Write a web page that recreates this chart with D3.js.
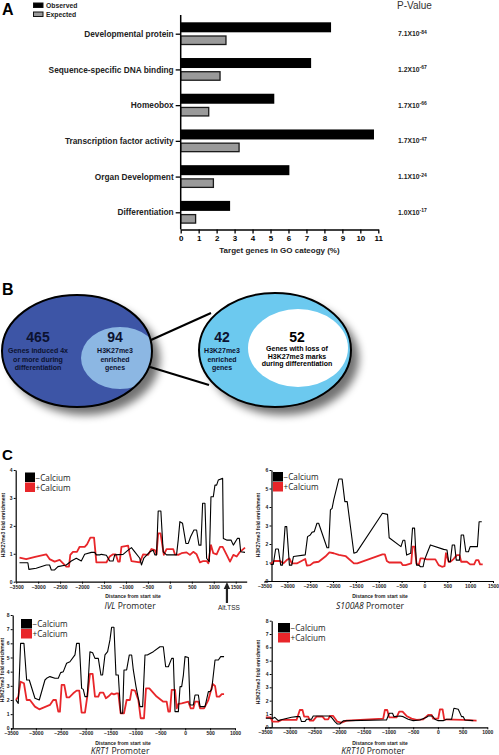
<!DOCTYPE html>
<html><head><meta charset="utf-8">
<script src="https://cdnjs.cloudflare.com/ajax/libs/d3/7.8.5/d3.min.js"></script>
<style>body{margin:0;background:#fff}svg{display:block;font-family:"Liberation Sans",Arial,sans-serif}</style>
</head><body><svg id="c" width="499" height="755"></svg>
<script>
// ---------- Panel A data ----------
const goCategories = ["Developmental protein","Sequence-specific DNA binding","Homeobox","Transcription factor activity","Organ Development","Differentiation"];
const observedPct = [8.37, 7.26, 5.21, 10.76, 6.05, 2.75];
const expectedPct = [2.52, 2.19, 1.56, 3.25, 1.82, 0.83];
const pValueMantissa = ["7.1","1.2","1.7","1.7","1.1","1.0"];
const pValueExponent = ["-84","-67","-66","-47","-24","-17"];
const pctTicks = [0,1,2,3,4,5,6,7,8,9,10,11];

// ---------- Panel B data ----------
const vennCounts = [465, 94, 42, 52];
const vennLabels = [
  ["Genes induced 4x","or more during","differentiation"],
  ["H3K27me3","enriched","genes"],
  ["H3K27me3","enriched","genes"],
  ["Genes with loss of","H3K27me3 marks","during differentiation"]
];

// ---------- Panel C data: [distance from start site, fold enrichment] ----------
const ivlMinusCa = [[-3425,0.68],[-3234,0.68],[-3211,0.44],[-3044,0.48],[-2816,0.6],[-2740,0.6],[-2700,0.42],[-2625,0.42],[-2550,0.54],[-2359,0.6],[-2245,0.74],[-2131,0.84],[-2017,0.74],[-1940,0.98],[-1788,1.05],[-1712,1.05],[-1674,0.96],[-1598,0.96],[-1560,0.98],[-1446,0.95],[-1370,0.74],[-1294,0.74],[-1256,0.96],[-1065,0.98],[-951,1.13],[-875,1.22],[-799,1.07],[-685,0.84],[-647,0.6],[-594,0.84],[-457,1.07],[-381,1.13],[-342,0.96],[-304,0.96],[-266,2.53],[-205,2.53],[-152,1.07],[-76,0.96],[152,0.96],[190,1.49],[228,2.15],[289,2.09],[365,1.37],[419,1.37],[472,1.61],[548,1.85],[609,1.85],[662,1.31],[708,1.31],[746,2.81],[799,2.81],[837,0.84],[898,0.72],[936,3.04],[989,3.04],[1027,3.46],[1065,3.46],[1103,3.64],[1202,3.7],[1218,1.55],[1294,1.49],[1393,1.49],[1446,1.31],[1537,1.55],[1583,1.55],[1613,1.07],[1712,1.05]];
const ivlPlusCa = [[-3425,0.86],[-3272,0.81],[-3044,0.9],[-2816,0.98],[-2740,0.81],[-2625,0.72],[-2511,0.78],[-2359,0.54],[-2298,0.54],[-2268,0.96],[-2207,1.07],[-2116,1.07],[-2055,1.25],[-1940,1.25],[-1887,1.34],[-1811,1.58],[-1727,1.58],[-1674,0.69],[-1446,0.69],[-1370,0.9],[-1294,0.98],[-1233,0.98],[-1180,0.72],[-1142,0.72],[-1103,1.25],[-951,1.29],[-913,0.98],[-875,0.74],[-685,0.69],[-609,0.98],[-495,0.96],[-419,1.17],[-342,1.13],[-304,0.98],[-266,1.73],[-213,1.73],[-137,0.96],[-76,1.17],[76,1.17],[114,0.98],[190,0.96],[266,1.02],[380,1.05],[457,0.96],[533,1.07],[609,0.98],[685,0.69],[761,0.74],[837,0.74],[875,0.66],[936,1.31],[989,1.02],[1065,0.98],[1142,1.25],[1202,1.25],[1294,0.96],[1370,0.72],[1446,0.96],[1522,0.9],[1598,1.07],[1712,1.22]];

const s100MinusCa = [[-3366,0.9],[-3308,0.9],[-3256,1.73],[-3197,1.73],[-3146,0.86],[-3109,0.86],[-3050,2.94],[-3014,2.94],[-2955,0.86],[-2903,0.86],[-2867,1.32],[-2609,1.41],[-2558,2.4],[-2499,2.49],[-2462,2.63],[-2411,2.67],[-2352,3.12],[-2315,3.12],[-2132,1.8],[-2095,1.8],[-2058,3.84],[-2021,3.93],[-1985,4.38],[-1874,5.51],[-1801,5.51],[-1742,4.29],[-1690,4.29],[-1544,1.5],[-1485,1.55],[-919,3.66],[-808,3.6],[-772,2.34],[-514,1.86],[-470,2.2],[-430,2.2],[-390,1.4],[-300,1.5],[-261,2.86],[-217,2.86],[-174,0.86],[-123,0.86],[-87,0.77],[-29,0.77],[0,1.13],[58,1.5],[130,1.95],[420,1.71],[493,1.68],[529,1.04],[565,1.04],[609,1.95],[659,1.95],[696,1.13],[768,1.13],[804,2.49],[855,2.49],[906,1.58],[963,1.58],[1000,1.86],[1159,1.86],[1196,3.2],[1254,3.2]];
const s100PlusCa = [[-3366,0.9],[-3293,1.08],[-3160,1.08],[-3087,0.95],[-3014,1.13],[-2955,1.22],[-2903,0.95],[-2793,0.95],[-2609,1.19],[-2573,0.83],[-2499,0.86],[-2426,1.0],[-2315,1.04],[-2168,1.32],[-2080,1.55],[-1985,1.5],[-1874,1.41],[-1727,1.35],[-1544,0.95],[-1470,0.95],[-919,1.44],[-867,1.44],[-823,1.08],[-772,1.0],[-514,1.0],[-478,0.86],[-413,0.86],[-290,0.95],[-261,1.86],[-217,1.86],[-174,0.95],[-123,0.86],[-87,1.22],[-43,1.22],[58,1.17],[239,1.17],[311,0.86],[384,0.77],[440,0.8],[470,1.5],[529,1.04],[565,1.04],[630,1.17],[710,1.4],[768,1.4],[804,1.04],[928,1.04],[1000,0.9],[1087,0.9],[1130,1.13],[1180,1.13],[1217,0.9],[1275,0.9]];

const krt1MinusCa = [[-3401,2.0],[-3354,1.76],[-3307,6.0],[-3240,6.0],[-3186,3.41],[-3133,3.41],[-3019,2.12],[-2932,2.0],[-2818,3.41],[-2785,3.53],[-2718,3.65],[-2617,3.53],[-2550,3.53],[-2503,3.93],[-2449,4.0],[-2383,4.59],[-2316,4.7],[-2215,5.18],[-2182,6.0],[-2128,6.0],[-2081,2.82],[-2048,2.75],[-2014,2.24],[-1968,2.24],[-1914,5.41],[-1860,5.34],[-1813,4.94],[-1746,4.94],[-1693,3.76],[-1660,3.76],[-1612,5.18],[-1559,5.41],[-1512,6.24],[-1479,7.13],[-1432,7.13],[-1391,3.76],[-1344,3.76],[-1297,1.06],[-1257,1.06],[-1230,4.12],[-1177,4.12],[-1123,5.18],[-1076,5.18],[-1043,4.12],[-989,2.94],[-909,1.53],[-855,1.53],[-808,5.18],[-761,5.18],[-641,5.41],[-507,5.76],[-440,5.76],[-393,4.35],[-339,4.35],[-272,4.94],[-239,4.94],[-205,1.18],[-138,1.18],[-104,2.94],[-71,2.94],[-37,3.76],[-4,5.06],[63,5.0],[97,1.65],[164,1.65],[197,2.35],[264,2.35],[298,1.53],[398,1.53],[465,2.59],[499,2.59],[532,2.75],[599,4.82],[666,4.82],[713,5.06],[780,5.06]];
const krt1PlusCa = [[-3401,2.0],[-3354,2.24],[-3307,3.29],[-3240,3.18],[-3186,2.0],[-3120,2.0],[-3019,1.53],[-2932,1.34],[-2718,1.65],[-2651,2.0],[-2597,2.0],[-2550,1.18],[-2517,1.18],[-2483,3.06],[-2429,3.06],[-2383,2.19],[-2330,2.19],[-2249,2.47],[-2182,2.66],[-2128,2.66],[-2081,1.11],[-2014,1.11],[-1968,2.24],[-1914,3.84],[-1860,3.84],[-1813,2.24],[-1746,2.24],[-1713,2.52],[-1646,2.52],[-1592,2.12],[-1546,2.24],[-1479,2.47],[-1432,2.4],[-1378,2.47],[-1344,2.47],[-1297,1.06],[-1230,1.06],[-1177,2.0],[-1110,2.0],[-1076,2.71],[-1009,2.66],[-942,2.0],[-895,0.71],[-828,0.71],[-788,2.82],[-721,2.82],[-574,2.24],[-440,1.88],[-373,1.88],[-339,1.18],[-306,1.18],[-272,2.71],[-205,2.71],[-171,1.41],[-138,1.72],[-71,1.76],[63,1.88],[111,1.41],[164,1.41],[197,1.88],[264,1.88],[298,1.41],[378,1.41],[465,2.0],[552,3.13],[599,2.99],[633,2.24],[687,2.24],[734,2.42],[780,2.42]];

const krt10MinusCa = [[-3483,0.68],[-3334,0.68],[-3301,0.75],[-3233,0.5],[-3132,0.6],[-2963,0.75],[-2862,0.8],[-2795,0.8],[-2761,0.43],[-2693,0.43],[-2660,0.6],[-2559,0.6],[-2524,0.85],[-2200,0.85],[-2153,0.75],[-2086,0.43],[-2039,0.25],[-1985,0.25],[-1917,0.48],[-1782,0.5],[-1107,0.55],[-1040,0.55],[-986,1.05],[-918,1.05],[-891,0.8],[-770,0.85],[-702,0.8],[-601,0.6],[-500,0.5],[-365,0.55],[-230,0.75],[-196,0.85],[-108,0.85],[-61,0.6],[7,0.5],[108,0.5],[176,0.6],[277,0.6],[324,1.43],[412,1.35],[479,0.8],[513,0.8],[547,0.55],[716,0.5]];
const krt10PlusCa = [[-3483,0.75],[-3389,0.75],[-3348,0.43],[-3233,0.43],[-3166,0.55],[-2862,0.55],[-2795,1.3],[-2741,1.3],[-2707,0.8],[-2626,0.8],[-2592,0.5],[-2524,0.5],[-2457,0.8],[-2336,0.8],[-2288,0.6],[-2221,0.6],[-2187,0.85],[-2120,0.85],[-2039,0.43],[-1951,0.35],[-1850,0.5],[-1107,0.65],[-1073,1.3],[-1026,1.3],[-986,0.75],[-837,0.75],[-783,1.18],[-716,1.18],[-635,0.85],[-533,0.65],[-432,0.55],[-297,0.6],[-196,0.93],[-128,0.93],[-95,0.65],[7,0.65],[41,1.35],[95,1.35],[128,0.6],[513,0.55],[783,0.5]];

const ticksIVLx = [-3500,-3000,-2500,-2000,-1500,-1000,-500,0,500,1000,1500];
const ticksS100x = [-3500,-3000,-2500,-2000,-1500,-1000,-500,0,500,1000,1500];
const ticksKRTx = [-3500,-3000,-2500,-2000,-1500,-1000,-500,0,500,1000];
const ticksIVLy = [0,1,2,3,4];
const ticksS100y = [0,1,2,3,4,5,6];
const ticksKRTy = [0,1,2,3,4,5,6,7,8];
const legendNames = ["\u2212Calcium", "+Calcium"];

const svg = d3.select("#c");
const defs = svg.append("defs");
const intFmt = d3.format("d");

// ================= Panel A =================
svg.append("text").attr("x",2).attr("y",15).attr("font-size",16).attr("font-weight","bold").text("A");
const xA = d3.scaleLinear().domain([0,11]).range([180.7,378.3]);
const yA = d3.scalePoint().domain(goCategories).range([33.7,212.3]);
const gA = svg.append("g");
gA.selectAll("rect.obs").data(goCategories).join("rect")
  .attr("x", xA(0)).attr("y", d=>yA(d)-11.4).attr("height",10)
  .attr("width",(d,i)=>xA(observedPct[i])-xA(0)).attr("fill","#000");
gA.selectAll("rect.exp").data(goCategories).join("rect")
  .attr("x", xA(0)).attr("y", d=>yA(d)+2.3).attr("height",8.5)
  .attr("width",(d,i)=>xA(expectedPct[i])-xA(0)).attr("fill","#9a9a9a").attr("stroke","#1a1a1a").attr("stroke-width",1.3);
const axA = gA.append("g").attr("transform",`translate(0,229.5)`)
  .call(d3.axisBottom(xA).tickValues(pctTicks).tickFormat(intFmt).tickSize(4).tickSizeOuter(0).tickPadding(1.5));
axA.select(".domain").attr("stroke-width",1.5);
axA.selectAll(".tick line").attr("stroke-width",1.3);
axA.selectAll("text").attr("font-size",8).attr("font-weight","bold").attr("font-family","Liberation Sans, Arial");
const ayA = gA.append("g").attr("transform",`translate(${xA(0)},0)`)
  .call(d3.axisLeft(yA).tickSize(5).tickSizeOuter(0).tickPadding(2));
ayA.select(".domain").attr("d","M0,15V229.5").attr("stroke-width",1.5);
ayA.selectAll(".tick line").attr("stroke-width",1.3);
ayA.selectAll("text").attr("font-size",8.3).attr("font-weight","bold").attr("fill","#222").attr("font-family","Liberation Sans, Arial");
gA.append("text").attr("x",(xA(0)+xA(11))/2).attr("y",253).attr("text-anchor","middle")
  .attr("font-size",8).attr("font-weight","bold").attr("fill","#222").text("Target genes in GO cateogy (%)");
[["Observed","#000"],["Expected","#9a9a9a"]].forEach((l,i)=>{
  gA.append("rect").attr("x",33.5).attr("y",3+i*9).attr("width",9.5).attr("height",4.5)
    .attr("fill",l[1]).attr("stroke","#111").attr("stroke-width",1);
  gA.append("text").attr("x",46).attr("y",8+i*9).attr("font-size",6.8).attr("font-weight","bold").attr("fill","#222").text(l[0]);
});
gA.append("text").attr("x",397).attr("y",9).attr("font-size",10).attr("fill","#333").text("P-Value");
goCategories.forEach((c,i)=>{
  const t = gA.append("text").attr("x",398).attr("y",yA(c)+2.5).attr("font-size",6.8).attr("font-weight","bold").attr("fill","#222");
  t.append("tspan").text(pValueMantissa[i]+"X10");
  t.append("tspan").attr("dy",-2.5).attr("font-size",5).text(pValueExponent[i]);
});

// ================= Panel B =================
svg.append("text").attr("x",2).attr("y",295).attr("font-size",16).attr("font-weight","bold").text("B");
const shadow = defs.append("filter").attr("id","sh").attr("x","-30%").attr("y","-30%").attr("width","160%").attr("height","160%");
shadow.append("feGaussianBlur").attr("stdDeviation",4);
const gB = svg.append("g");
gB.append("ellipse").attr("cx",85).attr("cy",359).attr("rx",75).attr("ry",56).attr("fill","#000").attr("opacity",0.55).attr("filter","url(#sh)");
gB.append("ellipse").attr("cx",283).attr("cy",358).attr("rx",76).attr("ry",57).attr("fill","#000").attr("opacity",0.55).attr("filter","url(#sh)");
defs.append("clipPath").attr("id","lc").append("ellipse").attr("cx",77).attr("cy",351).attr("rx",75).attr("ry",56);
gB.append("ellipse").attr("cx",77).attr("cy",351).attr("rx",75).attr("ry",56).attr("fill","#3d55a6");
gB.append("ellipse").attr("cx",120).attr("cy",358).attr("rx",39).attr("ry",31).attr("fill","#8cb7e3").attr("clip-path","url(#lc)");
gB.append("ellipse").attr("cx",77).attr("cy",351).attr("rx",75).attr("ry",56).attr("fill","none").attr("stroke","#000").attr("stroke-width",2);
gB.append("line").attr("x1",151).attr("y1",340).attr("x2",211).attr("y2",313).attr("stroke","#000").attr("stroke-width",2);
gB.append("line").attr("x1",150).attr("y1",367).attr("x2",209).attr("y2",385).attr("stroke","#000").attr("stroke-width",2);
gB.append("ellipse").attr("cx",275).attr("cy",350).attr("rx",76).attr("ry",57).attr("fill","#6cc9ef");
gB.append("ellipse").attr("cx",298).attr("cy",348).attr("rx",50).attr("ry",39).attr("fill","#fff");
gB.append("ellipse").attr("cx",275).attr("cy",350).attr("rx",76).attr("ry",57).attr("fill","none").attr("stroke","#000").attr("stroke-width",2);
const vennPos = [[38,"#0c1230"],[115,"#0c1230"],[222,"#0c1230"],[297,"#000"]];
vennCounts.forEach((n,i)=>{
  const cx = vennPos[i][0];
  gB.append("text").attr("x",cx).attr("y",341.5).attr("text-anchor","middle").attr("font-size",14).attr("font-weight","bold").attr("fill",vennPos[i][1]).text(n);
  vennLabels[i].forEach((s,j)=>{
    const y0 = i===3 ? 351 : 353.3;
    const dy = i===3 ? 7.6 : 8.4;
    gB.append("text").attr("x",cx).attr("y",y0+j*dy).attr("text-anchor","middle").attr("font-size",7).attr("font-weight","bold").attr("fill",vennPos[i][1]).text(s);
  });
});

// ================= Panel C =================
svg.append("text").attr("x",2).attr("y",460).attr("font-size",15).attr("font-weight","bold").text("C");

function lineChart(cfg){
  const g = svg.append("g");
  const x = d3.scaleLinear().domain(cfg.xDomain).range(cfg.xRange);
  const y = d3.scaleLinear().domain(cfg.yDomain).range(cfg.yRange);
  const ax = g.append("g").attr("transform",`translate(0,${cfg.yRange[0]})`)
    .call(d3.axisBottom(x).tickValues(cfg.xTicks).tickFormat(intFmt).tickSize(2).tickSizeOuter(0).tickPadding(1.5));
  const ay = g.append("g").attr("transform",`translate(${cfg.yAxisX},0)`)
    .call(d3.axisLeft(y).tickValues(cfg.yTicks).tickFormat(intFmt).tickSize(2).tickSizeOuter(0).tickPadding(1.2));
  [ax,ay].forEach(a=>{
    a.select(".domain").attr("stroke-width",1.2);
    a.selectAll(".tick line").attr("stroke-width",1);
    a.selectAll("text").attr("font-size",5).attr("font-weight","bold").attr("fill","#222");
  });
  const line = d3.line().x(d=>x(d[0])).y(d=>y(d[1])).curve(d3.curveLinear);
  g.append("path").datum(cfg.plus).attr("d",line).attr("fill","none").attr("stroke","#e8262a").attr("stroke-width",1.8).attr("stroke-linejoin","round");
  g.append("path").datum(cfg.minus).attr("d",line).attr("fill","none").attr("stroke","#000").attr("stroke-width",1.1).attr("stroke-linejoin","round");
  const L = cfg.legend;
  ["#000","#e8262a"].forEach((c,i)=>{
    g.append("rect").attr("x",L[0]).attr("y",L[1]+i*L[3]).attr("width",L[2]).attr("height",L[3]-0.5).attr("fill",c);
    g.append("text").attr("x",L[0]+L[2]+0.5).attr("y",L[1]+i*L[3]+L[3]-2).attr("font-size",8.2).attr("fill","#222")
      .attr("font-family","Open Sans, Liberation Sans").text(legendNames[i]);
  });
  g.append("text").attr("transform",`translate(${cfg.yTitle[0]},${cfg.yTitle[1]}) rotate(-90)`).attr("text-anchor","middle")
    .attr("font-size",5).attr("font-weight","bold").attr("fill","#222").text("H3K27me3 fold enrichment");
  g.append("text").attr("x",cfg.xTitle[0]).attr("y",cfg.xTitle[1]).attr("text-anchor","middle")
    .attr("font-size",5).attr("font-weight","bold").attr("fill","#222").text("Distance from start site");
  const pt = g.append("text").attr("x",cfg.name[0]).attr("y",cfg.name[1]).attr("text-anchor","middle")
    .attr("font-size",8.5).attr("fill","#222").attr("font-family","Open Sans, Liberation Sans");
  pt.append("tspan").attr("font-style","italic").text(cfg.gene);
  pt.append("tspan").text(" Promoter");
  return {g,x,y};
}

const c1 = lineChart({xDomain:[-3500,1750], xRange:[16.2,246.7], yDomain:[0,4], yRange:[581.7,470], yAxisX:15.7,
  xTicks:ticksIVLx, yTicks:ticksIVLy, minus:ivlMinusCa, plus:ivlPlusCa, legend:[25,472.5,10,10],
  yTitle:[4.5,525], xTitle:[133,598], name:[130,609], gene:"IVL"});
const ax0 = c1.x(1300);
c1.g.append("line").attr("x1",ax0).attr("x2",ax0).attr("y1",603).attr("y2",587).attr("stroke","#222").attr("stroke-width",2.2);
c1.g.append("path").attr("d",`M${ax0},582L${ax0-3.2},589L${ax0+3.2},589Z`).attr("fill","#222");
c1.g.append("text").attr("x",ax0+2).attr("y",610).attr("text-anchor","middle").attr("font-size",6.5).attr("fill","#222").text("Alt.TSS");

lineChart({xDomain:[-3500,1500], xRange:[264.5,493], yDomain:[0,6], yRange:[581,470], yAxisX:271.5,
  xTicks:ticksS100x, yTicks:ticksS100y, minus:s100MinusCa, plus:s100PlusCa, legend:[273,472,10,10],
  yTitle:[259.5,525], xTitle:[380,598], name:[370,609], gene:"S100A8"});

lineChart({xDomain:[-3500,1000], xRange:[11,235], yDomain:[0,8], yRange:[728.3,615], yAxisX:12.7,
  xTicks:ticksKRTx, yTicks:ticksKRTy, minus:krt1MinusCa, plus:krt1PlusCa, legend:[21,619,11,10],
  yTitle:[3.5,670], xTitle:[123,745], name:[120,754], gene:"KRT1"});

lineChart({xDomain:[-3500,1000], xRange:[265,487.3], yDomain:[0,8], yRange:[727.3,620.7], yAxisX:271.7,
  xTicks:ticksKRTx, yTicks:ticksKRTy, minus:krt10MinusCa, plus:krt10PlusCa, legend:[278,623,12,10],
  yTitle:[259.5,672], xTitle:[380,745], name:[373,754], gene:"KRT10"});
</script></body></html>
